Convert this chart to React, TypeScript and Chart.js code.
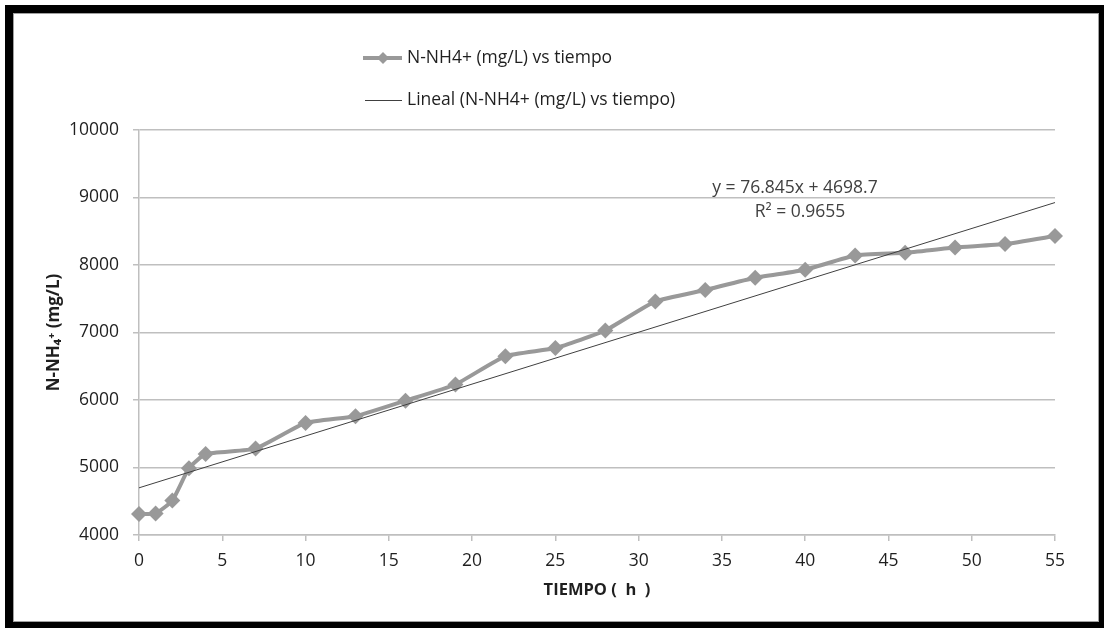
import React, { useEffect, useRef } from "react";
import { Chart, registerables } from "chart.js";

Chart.register(...registerables);

const timeHours = [0, 1, 2, 3, 4, 7, 10, 13, 16, 19, 22, 25, 28, 31, 34, 37, 40, 43, 46, 49, 52, 55];
const nh4Values = [4310, 4320, 4510, 4990, 5200, 5280, 5660, 5760, 5990, 6230, 6650, 6770, 7030, 7460, 7630, 7810, 7930, 8140, 8180, 8260, 8310, 8430];
const trendX = [0, 55];
const trendY = [4698.7, 8925.2];
const seriesLabel = "N-NH4+ (mg/L) vs tiempo";
const trendLabel = "Lineal (N-NH4+ (mg/L) vs tiempo)";
const equationText = "y = 76.845x + 4698.7";
const r2Text = "R² = 0.9655";
const xTitle = "TIEMPO (  h  )";
const yTitle = "N-NH₄⁺ (mg/L)";

const FONT = "'Open Sans', 'DejaVu Sans', sans-serif";
const SERIES_COLOR = "#999999";
const TREND_COLOR = "#404040";
const GRID_COLOR = "#bfbfbf";
const TEXT_COLOR = "#1f1f1f";

const overlayPlugin = {
  id: "overlayText",
  afterDraw(chart: any) {
    const ctx = chart.ctx as CanvasRenderingContext2D;
    ctx.save();
    // legend item 1
    ctx.strokeStyle = SERIES_COLOR;
    ctx.lineWidth = 4;
    ctx.beginPath();
    ctx.moveTo(363, 58);
    ctx.lineTo(402, 58);
    ctx.stroke();
    ctx.fillStyle = SERIES_COLOR;
    ctx.beginPath();
    ctx.moveTo(383, 52);
    ctx.lineTo(389, 58);
    ctx.lineTo(383, 64);
    ctx.lineTo(377, 58);
    ctx.closePath();
    ctx.fill();
    // legend item 2
    ctx.strokeStyle = TREND_COLOR;
    ctx.lineWidth = 1;
    ctx.beginPath();
    ctx.moveTo(365, 100.5);
    ctx.lineTo(402, 100.5);
    ctx.stroke();
    ctx.fillStyle = TEXT_COLOR;
    ctx.font = `17.5px ${FONT}`;
    ctx.textAlign = "left";
    ctx.textBaseline = "middle";
    ctx.fillText(seriesLabel, 407, 58);
    ctx.fillText(trendLabel, 407, 100);
    // equation
    ctx.fillStyle = TREND_COLOR;
    ctx.textAlign = "center";
    ctx.fillText(equationText, 795, 188);
    ctx.fillText(r2Text, 800, 212);
    ctx.restore();
  },
};

export default function App() {
  const canvasRef = useRef<HTMLCanvasElement | null>(null);

  useEffect(() => {
    if (!canvasRef.current) return;
    const chart = new Chart(canvasRef.current, {
      type: "line",
      data: {
        datasets: [
          {
            label: trendLabel,
            data: trendX.map((x, i) => ({ x, y: trendY[i] })),
            borderColor: TREND_COLOR,
            borderWidth: 1,
            pointRadius: 0,
            fill: false,
            order: 0,
          },
          {
            label: seriesLabel,
            data: timeHours.map((x, i) => ({ x, y: nh4Values[i] })),
            borderColor: SERIES_COLOR,
            backgroundColor: SERIES_COLOR,
            borderWidth: 4,
            pointStyle: "rectRot",
            pointRadius: 8,
            pointBorderWidth: 0,
            tension: 0.15,
            fill: false,
            clip: false,
            order: 1,
          },
        ],
      },
      options: {
        animation: false,
        responsive: false,
        maintainAspectRatio: false,
        layout: { padding: { left: 0, right: 49, top: 130, bottom: 0 } },
        plugins: {
          legend: { display: false },
          tooltip: { enabled: false },
        },
        scales: {
          x: {
            type: "linear",
            min: 0,
            max: 55,
            ticks: {
              stepSize: 5,
              color: TEXT_COLOR,
              font: { family: FONT, size: 17.5 },
              padding: 10,
              callback: (v: any) => String(v),
            },
            grid: {
              drawOnChartArea: false,
              drawTicks: true,
              tickLength: 6,
              color: GRID_COLOR,
              lineWidth: 1.5,
            },
            border: { display: true, color: GRID_COLOR, width: 1.5 },
            title: {
              display: true,
              text: xTitle,
              color: TEXT_COLOR,
              font: { family: FONT, size: 16.5, weight: "bold" },
              padding: { top: 0, bottom: 28 },
            },
            afterFit(scale: any) {
              scale.height = 93;
            },
          },
          y: {
            type: "linear",
            min: 4000,
            max: 10000,
            ticks: {
              stepSize: 1000,
              color: TEXT_COLOR,
              font: { family: FONT, size: 17.5 },
              padding: 14,
              callback: (v: any) => String(v),
            },
            grid: {
              drawOnChartArea: true,
              drawTicks: true,
              tickLength: 6,
              color: GRID_COLOR,
              lineWidth: 1.5,
            },
            border: { display: true, color: GRID_COLOR, width: 1.5 },
            title: {
              display: true,
              text: yTitle,
              color: TEXT_COLOR,
              font: { family: FONT, size: 17, weight: "bold" },
              padding: { top: 44, bottom: 0 },
            },
            afterFit(scale: any) {
              scale.width = 139;
            },
          },
        },
      },
      plugins: [overlayPlugin],
    });
    return () => chart.destroy();
  }, []);

  return (
    <div style={{ position: "fixed", left: 0, top: 0, width: 1104, height: 628, background: "#ffffff" }}>
      <div style={{ position: "absolute", left: 5, top: 5, width: 1099, height: 623, background: "#000000" }} />
      <div
        style={{
          position: "absolute",
          left: 13,
          top: 13,
          width: 1086,
          height: 609,
          background: "#ffffff",
          border: "1px solid #a0a0a0",
          boxSizing: "border-box",
        }}
      />
      <canvas ref={canvasRef} width={1104} height={628} style={{ position: "absolute", left: 0, top: 0 }} />
    </div>
  );
}
